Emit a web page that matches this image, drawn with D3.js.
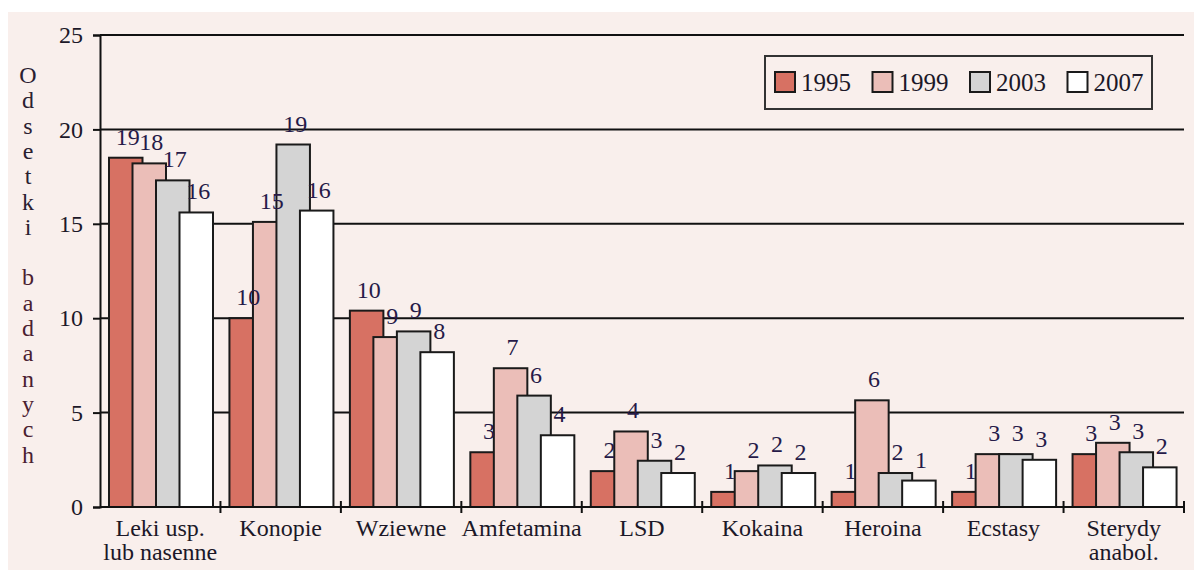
<!DOCTYPE html>
<html>
<head>
<meta charset="utf-8">
<script src="https://cdn.jsdelivr.net/npm/d3@7"></script>
<style>
  body { margin: 0; background: #fff; }
  svg { display: block; font-family: "Liberation Serif", "DejaVu Serif", serif; }
</style>
</head>
<body>
<svg width="1194" height="570"></svg>
<script>
const categories = ["Leki usp.|lub nasenne", "Konopie", "Wziewne", "Amfetamina", "LSD",
  "Kokaina", "Heroina", "Ecstasy", "Sterydy|anabol."];
const years = ["1995", "1999", "2003", "2007"];

// bar heights
const v1995 = [18.5, 10.0, 10.4, 2.9, 1.9, 0.8, 0.8, 0.8, 2.8];
const v1999 = [18.2, 15.1, 9.0, 7.35, 4.0, 1.9, 5.65, 2.8, 3.4];
const v2003 = [17.3, 19.2, 9.3, 5.9, 2.45, 2.2, 1.8, 2.8, 2.9];
const v2007 = [15.6, 15.7, 8.2, 3.8, 1.8, 1.8, 1.4, 2.5, 2.1];

// numbers printed above the bars
const l1995 = [19, 10, 10, 3, 2, 1, 1, 1, 3];
const l1999 = [18, 15, 9, 7, 4, 2, 6, 3, 3];
const l2003 = [17, 19, 9, 6, 3, 2, 2, 3, 3];
const l2007 = [16, 16, 8, 4, 2, 2, 1, 3, 2];

const yTicks = [0, 5, 10, 15, 20, 25];
const yTitle = "Odsetki badanych";

const values = [v1995, v1999, v2003, v2007];
const labels = [l1995, l1999, l2003, l2007];
const colors = ["#d77163", "#ebbeb8", "#d4d4d4", "#ffffff"];
const ink = "#1c1828";

const svg = d3.select("svg");

// chart background
svg.append("rect")
  .attr("x", 8).attr("y", 12)
  .attr("width", 1186).attr("height", 558)
  .attr("fill", "#f9efec");

const mLeft = 100, mRight = 1184, mTop = 35, mBottom = 507;

const x = d3.scaleBand().domain(categories).range([mLeft, mRight]);
const y = d3.scaleLinear().domain([0, 25]).range([mBottom, mTop]);
const barW = 33.5;
const x1 = d3.scalePoint().domain(years).range([9, 9 + 3 * 23.5]);

// gridlines
svg.append("g")
  .selectAll("line")
  .data(yTicks.slice(1))
  .join("line")
  .attr("x1", mLeft).attr("x2", mRight)
  .attr("y1", d => y(d)).attr("y2", d => y(d))
  .attr("stroke", "#111").attr("stroke-width", 2);

// y axis
const yAxis = svg.append("g")
  .attr("transform", `translate(${mLeft},0)`)
  .call(d3.axisLeft(y).tickValues(yTicks).tickSize(7).tickPadding(10));
yAxis.select(".domain").attr("stroke", "#111").attr("stroke-width", 2);
yAxis.selectAll(".tick line").attr("stroke", "#111").attr("stroke-width", 2);
yAxis.selectAll(".tick text")
  .attr("font-size", 24)
  .attr("font-family", "Liberation Serif")
  .attr("fill", ink);

// bars
const groups = svg.append("g")
  .selectAll("g")
  .data(categories)
  .join("g")
  .attr("transform", d => `translate(${x(d)},0)`);

groups.selectAll("rect")
  .data((c, ci) => years.map((yr, si) => ({ yr, v: values[si][ci], si })))
  .join("rect")
  .attr("x", d => x1(d.yr))
  .attr("y", d => y(d.v))
  .attr("width", barW)
  .attr("height", d => y(0) - y(d.v))
  .attr("fill", d => colors[d.si])
  .attr("stroke", "#1a1a1a")
  .attr("stroke-width", 2);

groups.selectAll("text.val")
  .data((c, ci) => years.map((yr, si) => ({ yr, v: values[si][ci], l: labels[si][ci] })))
  .join("text")
  .attr("class", "val")
  .attr("x", d => x1(d.yr) + barW / 2 + 2)
  .attr("y", d => y(d.v) - 13)
  .attr("text-anchor", "middle")
  .attr("font-size", 24)
  .attr("fill", "#261a48")
  .text(d => d.l);

// x axis
svg.append("line")
  .attr("x1", mLeft).attr("x2", mRight)
  .attr("y1", mBottom).attr("y2", mBottom)
  .attr("stroke", "#111").attr("stroke-width", 2);

svg.append("g")
  .selectAll("line")
  .data(categories)
  .join("line")
  .attr("x1", d => x(d) + x.bandwidth()).attr("x2", d => x(d) + x.bandwidth())
  .attr("y1", mBottom - 6).attr("y2", mBottom + 6)
  .attr("stroke", "#111").attr("stroke-width", 2);

const xl = svg.append("g")
  .selectAll("text")
  .data(categories)
  .join("text")
  .attr("x", d => x(d) + x.bandwidth() / 2)
  .attr("y", 536)
  .attr("text-anchor", "middle")
  .attr("font-size", 24)
  .attr("fill", ink);
xl.selectAll("tspan")
  .data(d => d.split("|"))
  .join("tspan")
  .attr("x", function () { return d3.select(this.parentNode).attr("x"); })
  .attr("dy", (d, i) => i === 0 ? 0 : 24)
  .text(d => d);

// y title, one letter per line
svg.append("g")
  .selectAll("text")
  .data(yTitle.split(""))
  .join("text")
  .attr("x", 28)
  .attr("y", (d, i) => 83 + i * 25.3)
  .attr("text-anchor", "middle")
  .attr("font-size", 24)
  .attr("fill", (d, i) => i < 7 ? "#2a2030" : "#4a2030")
  .text(d => d);

// legend
const legend = svg.append("g");
legend.append("rect")
  .attr("x", 765).attr("y", 56)
  .attr("width", 387).attr("height", 53)
  .attr("fill", "#f9efec")
  .attr("stroke", "#333").attr("stroke-width", 2);

const lx = d3.scalePoint().domain(years).range([775, 775 + 3 * 97.5]);
const items = legend.selectAll("g")
  .data(years)
  .join("g")
  .attr("transform", d => `translate(${lx(d)},72)`);
items.append("rect")
  .attr("width", 20).attr("height", 20)
  .attr("fill", (d, i) => colors[i])
  .attr("stroke", "#1a1a1a").attr("stroke-width", 2);
items.append("text")
  .attr("x", 26).attr("y", 19)
  .attr("font-size", 25)
  .attr("fill", ink)
  .text(d => d);
</script>
</body>
</html>
